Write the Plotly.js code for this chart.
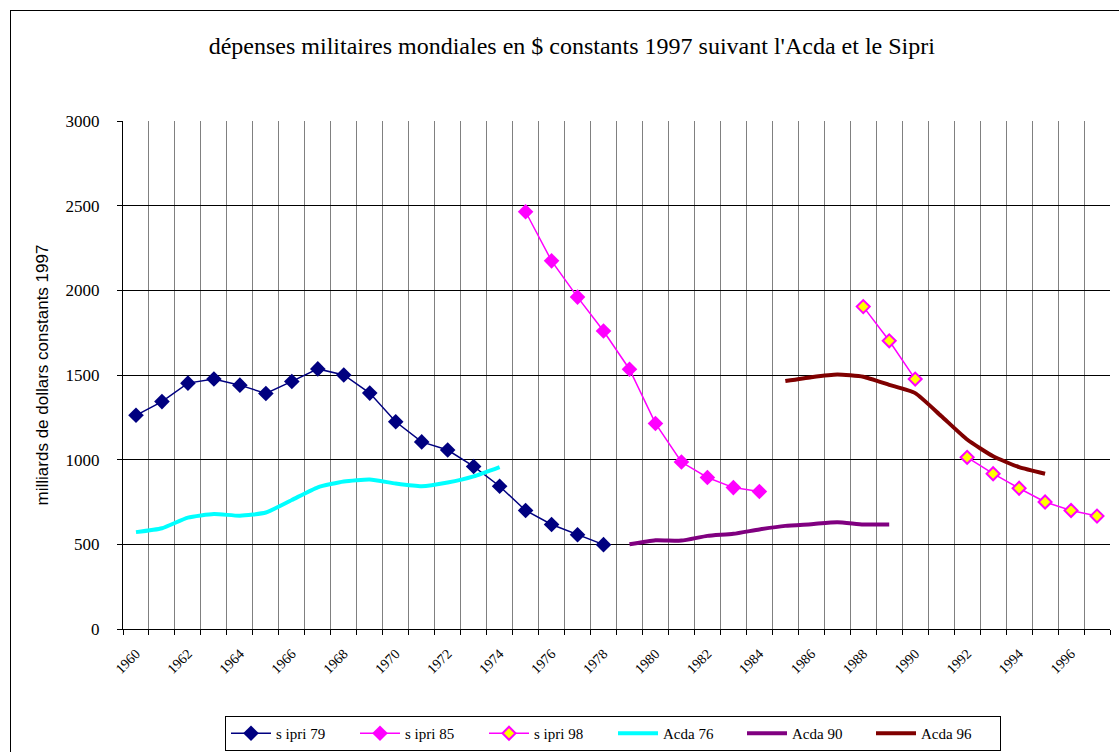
<!DOCTYPE html>
<html>
<head>
<meta charset="utf-8">
<script src="https://cdn.plot.ly/plotly-3.0.1.min.js"></script>
<style>
  html, body { margin: 0; padding: 0; background: #fff; }
  #chart { width: 1119px; height: 752px; position: absolute; left: 0; top: 0; }
  #frame { position: absolute; left: 10px; top: 10px; width: 1120px; height: 760px;
           border-left: 1px solid #000; border-top: 1px solid #000; pointer-events: none; }
</style>
</head>
<body>
<div id="chart"></div>
<div id="frame"></div>
<script>
// ---- data (billions of constant 1997 dollars) ----
const sipri79Start = 1960;
const sipri79 = [1262, 1343, 1452, 1476, 1440, 1391, 1462, 1536, 1500, 1393, 1224, 1105, 1057, 960, 843, 700, 617, 557, 498];
const sipri85Start = 1975;
const sipri85 = [2464, 2174, 1960, 1760, 1534, 1214, 986, 895, 835, 812];
const sipri98Start = 1988;
const sipri98 = [1904, 1702, 1476, null, 1014, 917, 831, 750, 700, 667];
const acda76Start = 1960;
const acda76 = [572, 595, 658, 679, 669, 688, 762, 837, 871, 883, 859, 843, 865, 901, 956];
const acda90Start = 1979;
const acda90 = [500, 524, 522, 550, 562, 588, 609, 619, 631, 617, 617];
const acda96Start = 1985;
const acda96 = [1464, 1487, 1503, 1490, 1442, 1393, 1258, 1119, 1020, 956, 917];

const firstYear = 1960;
const lastYear = 1997;
const tickYears = [1960, 1962, 1964, 1966, 1968, 1970, 1972, 1974, 1976, 1978, 1980,
                   1982, 1984, 1986, 1988, 1990, 1992, 1994, 1996];

function yearsFrom(start, arr) { return arr.map((_, i) => start + i); }

const boundaries = [];
for (let y = firstYear; y <= lastYear + 1; y++) boundaries.push(y - 0.5);

const serif = "'Liberation Serif', 'Times New Roman', serif";
const sans = "'Liberation Sans', Arial, sans-serif";

const traces = [
  { name: 's ipri 79', x: yearsFrom(sipri79Start, sipri79), y: sipri79, mode: 'lines+markers',
    line: { color: '#000080', width: 1.5 },
    marker: { symbol: 'diamond', size: 12, color: '#000080' } },
  { name: 's ipri 85', x: yearsFrom(sipri85Start, sipri85), y: sipri85, mode: 'lines+markers',
    line: { color: '#FF00FF', width: 1.5 },
    marker: { symbol: 'diamond', size: 12, color: '#FF00FF' } },
  { name: 's ipri 98', x: yearsFrom(sipri98Start, sipri98), y: sipri98, mode: 'lines+markers',
    connectgaps: false,
    line: { color: '#FF00FF', width: 1.5 },
    marker: { symbol: 'diamond', size: 10, color: '#FFFF00', line: { color: '#FF00FF', width: 2 } } },
  { name: 'Acda 76', x: yearsFrom(acda76Start, acda76), y: acda76, mode: 'lines',
    line: { color: '#00FFFF', width: 4, shape: 'spline', smoothing: 0.5 } },
  { name: 'Acda 90', x: yearsFrom(acda90Start, acda90), y: acda90, mode: 'lines',
    line: { color: '#800080', width: 4, shape: 'spline', smoothing: 0.5 } },
  { name: 'Acda 96', x: yearsFrom(acda96Start, acda96), y: acda96, mode: 'lines',
    line: { color: '#800000', width: 4, shape: 'spline', smoothing: 0.5 } }
];

const layout = {
  width: 1119, height: 752,
  paper_bgcolor: 'rgba(0,0,0,0)', plot_bgcolor: '#fff',
  margin: { l: 123, r: 9, t: 121, b: 123 },
  showlegend: true,
  hovermode: false,
  title: {
    text: "dépenses militaires mondiales en $ constants 1997 suivant l'Acda et le Sipri",
    font: { family: serif, size: 24, color: '#000' },
    x: 0.511, xanchor: 'center', xref: 'container',
    y: 1 - 46 / 752, yanchor: 'middle', yref: 'container'
  },
  xaxis: {
    type: 'linear',
    range: [firstYear - 0.5, lastYear + 0.5],
    tickmode: 'array', tickvals: tickYears, ticktext: tickYears.map(String),
    tickangle: -45,
    ticks: '', showgrid: false, zeroline: false,
    showline: true, linecolor: '#000', linewidth: 1,
    ticklabelstandoff: 10,
    tickfont: { family: serif, size: 14, color: '#000' },
    minor: { tickmode: 'array', tickvals: boundaries, ticks: 'outside', ticklen: 5,
             tickcolor: '#000', showgrid: true, gridcolor: '#808080', gridwidth: 1 }
  },
  yaxis: {
    range: [0, 3000], tickmode: 'linear', tick0: 0, dtick: 500,
    ticks: 'outside', ticklen: 5, tickcolor: '#000',
    showgrid: true, gridcolor: '#000', gridwidth: 1, zeroline: false,
    showline: true, linecolor: '#000', linewidth: 1,
    ticklabelstandoff: 14,
    tickfont: { family: serif, size: 17, color: '#000' },
    title: { text: 'milliards de dollars constants 1997',
             font: { family: sans, size: 17, color: '#000' }, standoff: 12 }
  },
  legend: {
    orientation: 'h', x: 613 / 1119, xanchor: 'center', xref: 'container',
    y: 1 - 716 / 752, yanchor: 'top', yref: 'container',
    bgcolor: '#fff', bordercolor: '#000', borderwidth: 1,
    font: { family: serif, size: 15, color: '#000' },
    itemwidth: 40, entrywidth: 74
  }
};

Plotly.newPlot('chart', traces, layout, { displayModeBar: false, staticPlot: true });
</script>
</body>
</html>
